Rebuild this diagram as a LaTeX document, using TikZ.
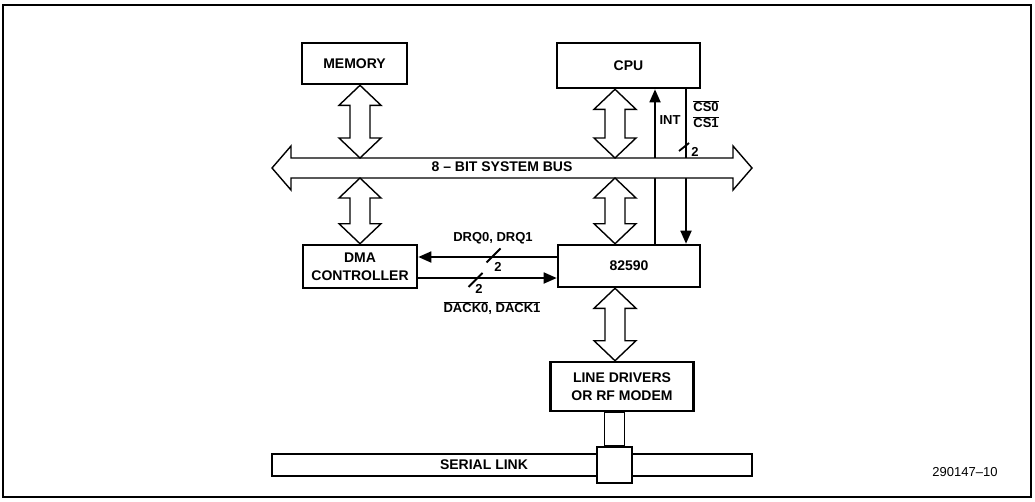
\documentclass[tikz,border=0pt]{standalone}
\usepackage{fontspec}
\setmainfont{Liberation Sans}
\usetikzlibrary{arrows.meta,calc}
\newcommand\hollowv[2]{%
  \path[hollow] let \p1=#1, \p2=#2 in
    (\x1,\y1) -- (\x1+21pt,\y1-20pt) -- (\x1+10pt,\y1-20pt) -- (\x1+10pt,\y2+20pt)
    -- (\x1+21pt,\y2+20pt) -- (\x1,\y2) -- (\x1-21pt,\y2+20pt) -- (\x1-10pt,\y2+20pt)
    -- (\x1-10pt,\y1-20pt) -- (\x1-21pt,\y1-20pt) -- cycle;}
\begin{document}
\begin{tikzpicture}[x=1pt,y=-1pt,
  box/.style={draw,line width=2.6pt,fill=white,inner sep=0pt,align=center,
    font=\fontsize{14}{17.5}\selectfont\bfseries},
  hollow/.style={draw,line width=1.4pt,fill=white,line join=miter},
  sig/.style={line width=1.8pt},
  tip/.style={-{Triangle[length=13pt,width=11pt]}},
  lbl/.style={font=\fontsize{13}{15}\selectfont\bfseries,inner sep=0pt},
]
\useasboundingbox (0,0) rectangle (1035,501);
\draw[line width=1.5pt] (3,5) rectangle (1031,497);

% boxes
\node[box,minimum width=105pt,minimum height=41pt] (mem) at (354.5,63.5) {MEMORY};
\node[box,minimum width=143pt,minimum height=45pt] (cpu) at (628.5,65.5) {CPU};
\node[box,minimum width=114pt,minimum height=43pt] (dma) at (360,266.5) {DMA\\CONTROLLER};
\node[box,minimum width=142pt,minimum height=42pt] (ctl) at (629,266) {82590};
\node[box,minimum width=143pt,minimum height=49pt] (ld) at (622,386.5) {LINE DRIVERS\\OR RF MODEM};

% helper coordinates
\coordinate (colL) at (360,0);
\coordinate (colR) at (615,0);
\coordinate (busT) at (0,158);
\coordinate (busB) at (0,178);
\coordinate (intx) at (655,0);
\coordinate (csx) at (686,0);
\coordinate (drqy) at (0,257);
\coordinate (dacky) at (0,278);

% signal lines
\draw[sig,tip] (intx |- ctl.north) -- (intx |- cpu.south);
\draw[sig,tip] (csx |- cpu.south) -- (csx |- ctl.north);
\draw[sig,tip] (ctl.west |- drqy) -- (dma.east |- drqy);
\draw[sig,tip] (dma.east |- dacky) -- (ctl.west |- dacky);

% system bus
\coordinate (busL) at (272,168);
\coordinate (busR) at (752,168);
\path[hollow] (busL) -- ++(19,-22) -- ++(0,12) -- (733,158) -- ++(0,-12) -- (busR)
  -- ++(-19,22) -- ++(0,-12) -- (291,178) -- ++(0,12) -- cycle;
\node[lbl,font=\fontsize{14}{16}\selectfont\bfseries] (buslbl) at (502,167) {8 \textendash\ BIT SYSTEM BUS};

% hollow bus arrows
\hollowv{(colL |- mem.south)}{(colL |- busT)}
\hollowv{(colL |- busB)}{(colL |- dma.north)}
\hollowv{(colR |- cpu.south)}{(colR |- busT)}
\hollowv{(colR |- busB)}{(colR |- ctl.north)}
\hollowv{(colR |- ctl.south)}{(colR |- ld.north)}

% bus width slashes
\coordinate (s1) at (684,147);
\coordinate (s2) at (493.5,255.5);
\coordinate (s3) at (475.5,280);
\draw[sig] ($(s1)+(-5,4)$) -- ($(s1)+(5,-4)$);
\draw[sig] ($(s2)+(-7,7)$) -- ($(s2)+(7,-7)$);
\draw[sig] ($(s3)+(-7,7)$) -- ($(s3)+(7,-7)$);
\node[lbl] (n1) at (695,152) {2};
\node[lbl] (n2) at (498,267) {2};
\node[lbl] (n3) at (479,289) {2};

% labels
\node[lbl] (intl) at (670,120) {INT};
\node[lbl] (cs0) at (706,106) {$\overline{\hbox{CS0}}$};
\node[lbl] (cs1) at (706,122) {$\overline{\hbox{CS1}}$};
\node[lbl] (drql) at (493,238) {DRQ0, DRQ1};
\node[lbl] (dackl) at (492,308) {$\overline{\hbox{DACK0}}$, $\overline{\hbox{DACK1}}$};

% serial link
\node[draw,line width=1.4pt,minimum width=480pt,minimum height=22pt,inner sep=0pt] (link) at (512,465) {};
\node[lbl,font=\fontsize{14}{16}\selectfont\bfseries] (linkl) at (484,465) {SERIAL LINK};
\node[draw,line width=2.6pt,fill=white,minimum width=35pt,minimum height=36pt,inner sep=0pt] (tap) at (614.5,465) {};
\draw[hollow] ($(tap.north |- ld.south)+(-10,0)$) rectangle ($(tap.north)+(10,0)$);

\node[font=\fontsize{13}{15}\selectfont,inner sep=0pt] (fig) at (965,472) {290147\textendash10};
\end{tikzpicture}
\end{document}
